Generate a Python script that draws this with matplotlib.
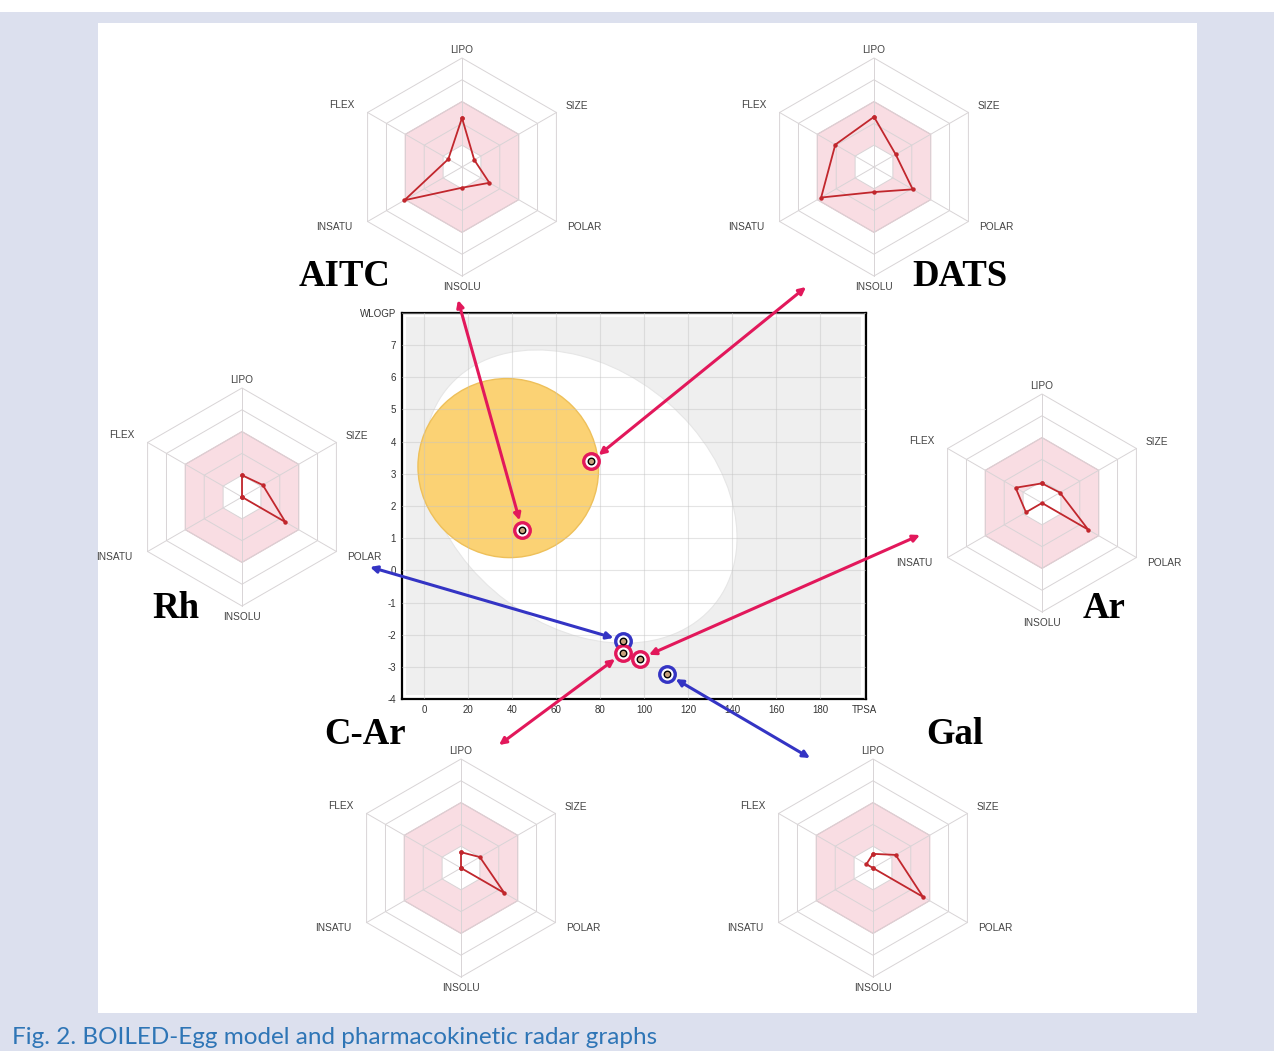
import numpy as np
import matplotlib
matplotlib.use('Agg')
import matplotlib.pyplot as plt
from matplotlib.patches import Ellipse, Rectangle, Polygon

W, H = 1274, 1051

# radar axes (SwissADME bioavailability radar)
axis_names = ['LIPO', 'SIZE', 'POLAR', 'INSOLU', 'INSATU', 'FLEX']
axis_angles = [90, 30, -30, -90, -150, 150]

# compounds on the BOILED-Egg
compounds = ['AITC', 'DATS', 'Rh', 'Ar', 'C-Ar', 'Gal']
tpsa = [44.45, 75.8, 90.2, 98.0, 90.2, 110.4]
wlogp = [1.26, 3.39, -2.18, -2.74, -2.57, -3.22]
pgp_substrate = [False, False, True, False, False, True]

# radar values (fraction of outer ring), order as axis_names
radar_aitc = [0.45, 0.13, 0.29, 0.19, 0.61, 0.145]
radar_dats = [0.46, 0.23, 0.41, 0.23, 0.56, 0.41]
radar_rh = [0.20, 0.22, 0.46, 0.0, 0.0, 0.0]
radar_ar = [0.18, 0.19, 0.49, 0.0, 0.17, 0.28]
radar_car = [0.145, 0.20, 0.46, 0.0, 0.0, 0.0]
radar_gal = [0.13, 0.24, 0.53, 0.0, 0.0, 0.07]
radar_values = [radar_aitc, radar_dats, radar_rh, radar_ar, radar_car, radar_gal]

# BOILED-Egg ellipses (center, width, height, angle in deg)
white_ell = ((71.051, 2.292), 142.081, 8.740, -1.031325)
yolk_ell = ((38.117, 3.177), 82.061, 5.557, -0.06627)

# layout in image pixels (top-left origin)
radar_centers = [(462, 167), (874, 167), (242, 497), (1042, 503), (461, 868), (873, 868)]
name_pos = [(345, 277), (960, 277), (176, 608), (1104, 608), (365, 735), (955, 735)]
arrow_ends = [(458, 300), (806, 287), (370, 567), (920, 535), (499, 745), (810, 758)]
label_offsets = [(0, 1.07), (1.05, 0.56), (1.12, -0.55), (0, -1.10), (-1.17, -0.55), (-1.10, 0.57)]

RED = '#e2185b'
BLUE = '#3434c4'


def fbox(x0, y0, x1, y1):
    return [x0 / W, 1 - y1 / H, (x1 - x0) / W, (y1 - y0) / H]


def fpt(x, y):
    return (x / W, 1 - y / H)


fig = plt.figure(figsize=(W / 100, H / 100), dpi=100)
fig.patch.set_facecolor('#dce0ee')
fig.add_artist(Rectangle((0, 1 - 12 / H), 1, 12 / H, transform=fig.transFigure,
                         fc='white', ec='none', zorder=-2))
fig.add_artist(Rectangle(fpt(98, 1013), (1197 - 98) / W, (1013 - 23) / H,
                         transform=fig.transFigure, fc='white', ec='none', zorder=-1))

# ---- BOILED-Egg ----
ax = fig.add_axes(fbox(401.7, 312.7, 866, 699.3))
ax.set_facecolor('white')
ax.set_xlim(-10.3, 200.7)
ax.set_ylim(-4, 8)
ax.add_patch(Rectangle((0.0097, 0.0116), 1 - 2 * 0.0097, 1 - 2 * 0.0116,
                       transform=ax.transAxes, fc='#efefef', ec='none', zorder=0))
c, w, h, a = white_ell
ax.add_patch(Ellipse(c, w, h, angle=a, fc='white', ec='#e6e6e6', lw=0.8, zorder=1))
c, w, h, a = yolk_ell
ax.add_patch(Ellipse(c, w, h, angle=a, fc='#fbd274', ec='#eec05a', lw=1.0, zorder=1.5))

xt = list(range(0, 201, 20))
ax.set_xticks(xt)
ax.set_xticklabels([str(v) for v in xt[:-1]] + ['TPSA'])
yt = list(range(-4, 9))
ax.set_yticks(yt)
ax.set_yticklabels([str(v) for v in yt[:-1]] + ['WLOGP'])
ax.tick_params(length=0, labelsize=7, labelcolor='#333333', pad=4)
for lab in ax.get_xticklabels() + ax.get_yticklabels():
    lab.set_family('Liberation Sans')
ax.set_axisbelow(False)
ax.grid(True, color='#c4c4c4', alpha=0.45, lw=0.8)
for s in ax.spines.values():
    s.set_color('black')
    s.set_linewidth(1.6)

for i, name in enumerate(compounds):
    col = BLUE if pgp_substrate[i] else RED
    ex, ey = arrow_ends[i]
    ax.annotate('', xy=(tpsa[i], wlogp[i]), xycoords='data',
                xytext=fpt(ex, ey), textcoords='figure fraction',
                arrowprops=dict(arrowstyle='<|-|>', color=col, lw=2.2,
                                shrinkA=0, shrinkB=7, mutation_scale=10),
                annotation_clip=False, zorder=5)
    ax.scatter(tpsa[i], wlogp[i], s=125, facecolor='white', edgecolor=col,
               linewidth=2.4, zorder=6)
    ax.scatter(tpsa[i], wlogp[i], s=22, facecolor='#c8a27c', edgecolor='black',
               linewidth=1.0, zorder=7)

# ---- radars ----
th = np.deg2rad(axis_angles)


def hexagon(r):
    return np.column_stack([r * np.cos(th), r * np.sin(th)])


for i, name in enumerate(compounds):
    cx, cy = radar_centers[i]
    rax = fig.add_axes(fbox(cx - 150, cy - 150, cx + 150, cy + 150))
    rax.set_xlim(-1.376, 1.376)
    rax.set_ylim(-1.376, 1.376)
    rax.set_aspect('equal')
    rax.axis('off')
    rax.add_patch(Polygon(hexagon(0.6), closed=True, fc='#f9dde3', ec='#ebb6c2',
                          lw=0.8, zorder=1))
    rax.add_patch(Polygon(hexagon(0.2), closed=True, fc='white', ec='none', zorder=1.5))
    for r in [0.2, 0.4, 0.6, 0.8, 1.0]:
        rax.add_patch(Polygon(hexagon(r), closed=True, fill=False, ec='#d8d4d6',
                              lw=0.7, zorder=2))
    for t in th:
        rax.plot([0, np.cos(t)], [0, np.sin(t)], color='#d8d4d6', lw=0.7, zorder=2)
    vals = np.array(radar_values[i])
    px = np.append(vals * np.cos(th), vals[0] * np.cos(th[0]))
    py = np.append(vals * np.sin(th), vals[0] * np.sin(th[0]))
    rax.plot(px, py, color='#c1272d', lw=1.3, marker='o', ms=2.2, zorder=3)
    for lab, (lx, ly) in zip(axis_names, label_offsets):
        rax.text(lx, ly, lab, ha='center', va='center', fontsize=7.3,
                 color='#444444', family='Liberation Sans')

    nx, ny = name_pos[i]
    fig.text(nx / W, 1 - ny / H, name, ha='center', va='center', fontsize=26.5,
             fontweight='bold', family='Liberation Serif', color='black')

fig.text(12 / W, 1 - 1037 / H, 'Fig. 2. BOILED-Egg model and pharmacokinetic radar graphs',
         ha='left', va='center', fontsize=17.5, color='#2e75b6', family='Lato')

fig.savefig('out.png', dpi=100, facecolor=fig.get_facecolor())
